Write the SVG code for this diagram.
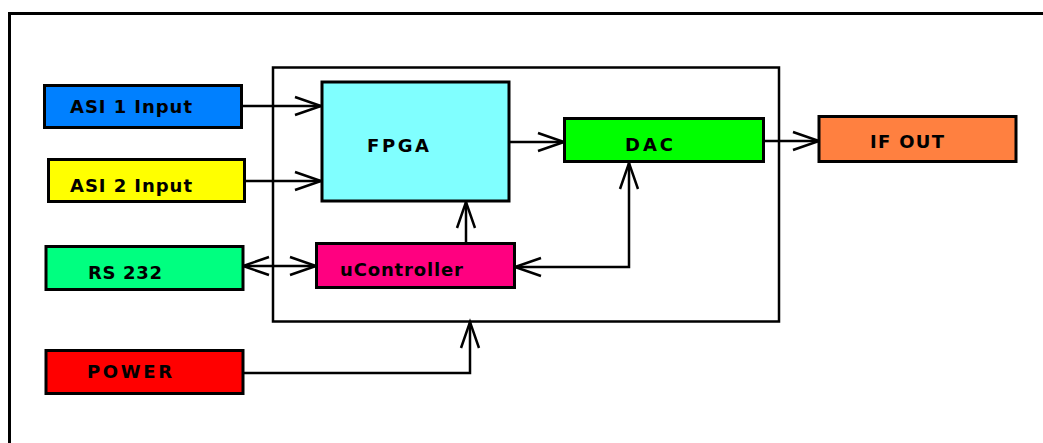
<svg xmlns="http://www.w3.org/2000/svg" width="1043" height="443" viewBox="0 0 1043 443">
<style>
.box{stroke:#000;stroke-width:3}
.lbl{font-family:"DejaVu Sans","Liberation Sans",sans-serif;font-weight:bold;font-size:18px;fill:#000}
.ln{fill:none;stroke:#000;stroke-width:2.5}
</style>
<defs>
<marker id="ah" markerUnits="userSpaceOnUse" markerWidth="30" markerHeight="20" refX="26" refY="9" orient="auto-start-reverse" overflow="visible">
<path d="M0,0 L26,9 L0,18" fill="none" stroke="#000" stroke-width="2.5"/>
</marker>
</defs>
<rect width="1043" height="443" fill="#fff"/>
<rect x="9.5" y="13.5" width="1100" height="500" fill="none" stroke="#000" stroke-width="3"/>
<g id="container"><rect x="273" y="67.5" width="506" height="254" fill="none" stroke="#000" stroke-width="2.5"/></g>
<g id="connectors">
<path class="ln" d="M242,106 L321,106" marker-end="url(#ah)"/>
<path class="ln" d="M245,181 L321,181" marker-end="url(#ah)"/>
<path class="ln" d="M509,142 L564,142" marker-end="url(#ah)"/>
<path class="ln" d="M763,141 L819,141" marker-end="url(#ah)"/>
<path class="ln" d="M466,243 L466,202" marker-end="url(#ah)"/>
<path class="ln" d="M243,266 L316,266" marker-start="url(#ah)" marker-end="url(#ah)"/>
<path class="ln" d="M629,163 L629,267 L515,267" marker-start="url(#ah)" marker-end="url(#ah)"/>
<path class="ln" d="M243,373 L470,373 L470,322" marker-end="url(#ah)"/>
</g>
<g id="asi1"><rect class="box" x="44.5" y="85.5" width="197" height="42" fill="#0080ff"/><text class="lbl" x="70" y="113" textLength="122" lengthAdjust="spacing">ASI 1 Input</text></g>
<g id="asi2"><rect class="box" x="48.5" y="159.5" width="196" height="42" fill="#ffff00"/><text class="lbl" x="70" y="192" textLength="122" lengthAdjust="spacing">ASI 2 Input</text></g>
<g id="rs232"><rect class="box" x="46" y="246.5" width="197" height="43" fill="#00ff80"/><text class="lbl" x="88" y="279" textLength="74" lengthAdjust="spacing">RS 232</text></g>
<g id="power"><rect class="box" x="46" y="350.5" width="197" height="43" fill="#ff0000"/><text class="lbl" x="87" y="378" textLength="85" lengthAdjust="spacing">POWER</text></g>
<g id="fpga"><rect class="box" x="322" y="82" width="187" height="119" fill="#80ffff"/><text class="lbl" x="367" y="152" textLength="62" lengthAdjust="spacing">FPGA</text></g>
<g id="dac"><rect class="box" x="564.5" y="118.5" width="199" height="43" fill="#00ff00"/><text class="lbl" x="625" y="151" textLength="48" lengthAdjust="spacing">DAC</text></g>
<g id="ifout"><rect class="box" x="819" y="116.5" width="197" height="45" fill="#ff8040"/><text class="lbl" x="870" y="148" textLength="74" lengthAdjust="spacing">IF OUT</text></g>
<g id="ucontroller"><rect class="box" x="316.5" y="243.5" width="198" height="44" fill="#ff0080"/><text class="lbl" x="340" y="276" textLength="123" lengthAdjust="spacing">uController</text></g>
</svg>
